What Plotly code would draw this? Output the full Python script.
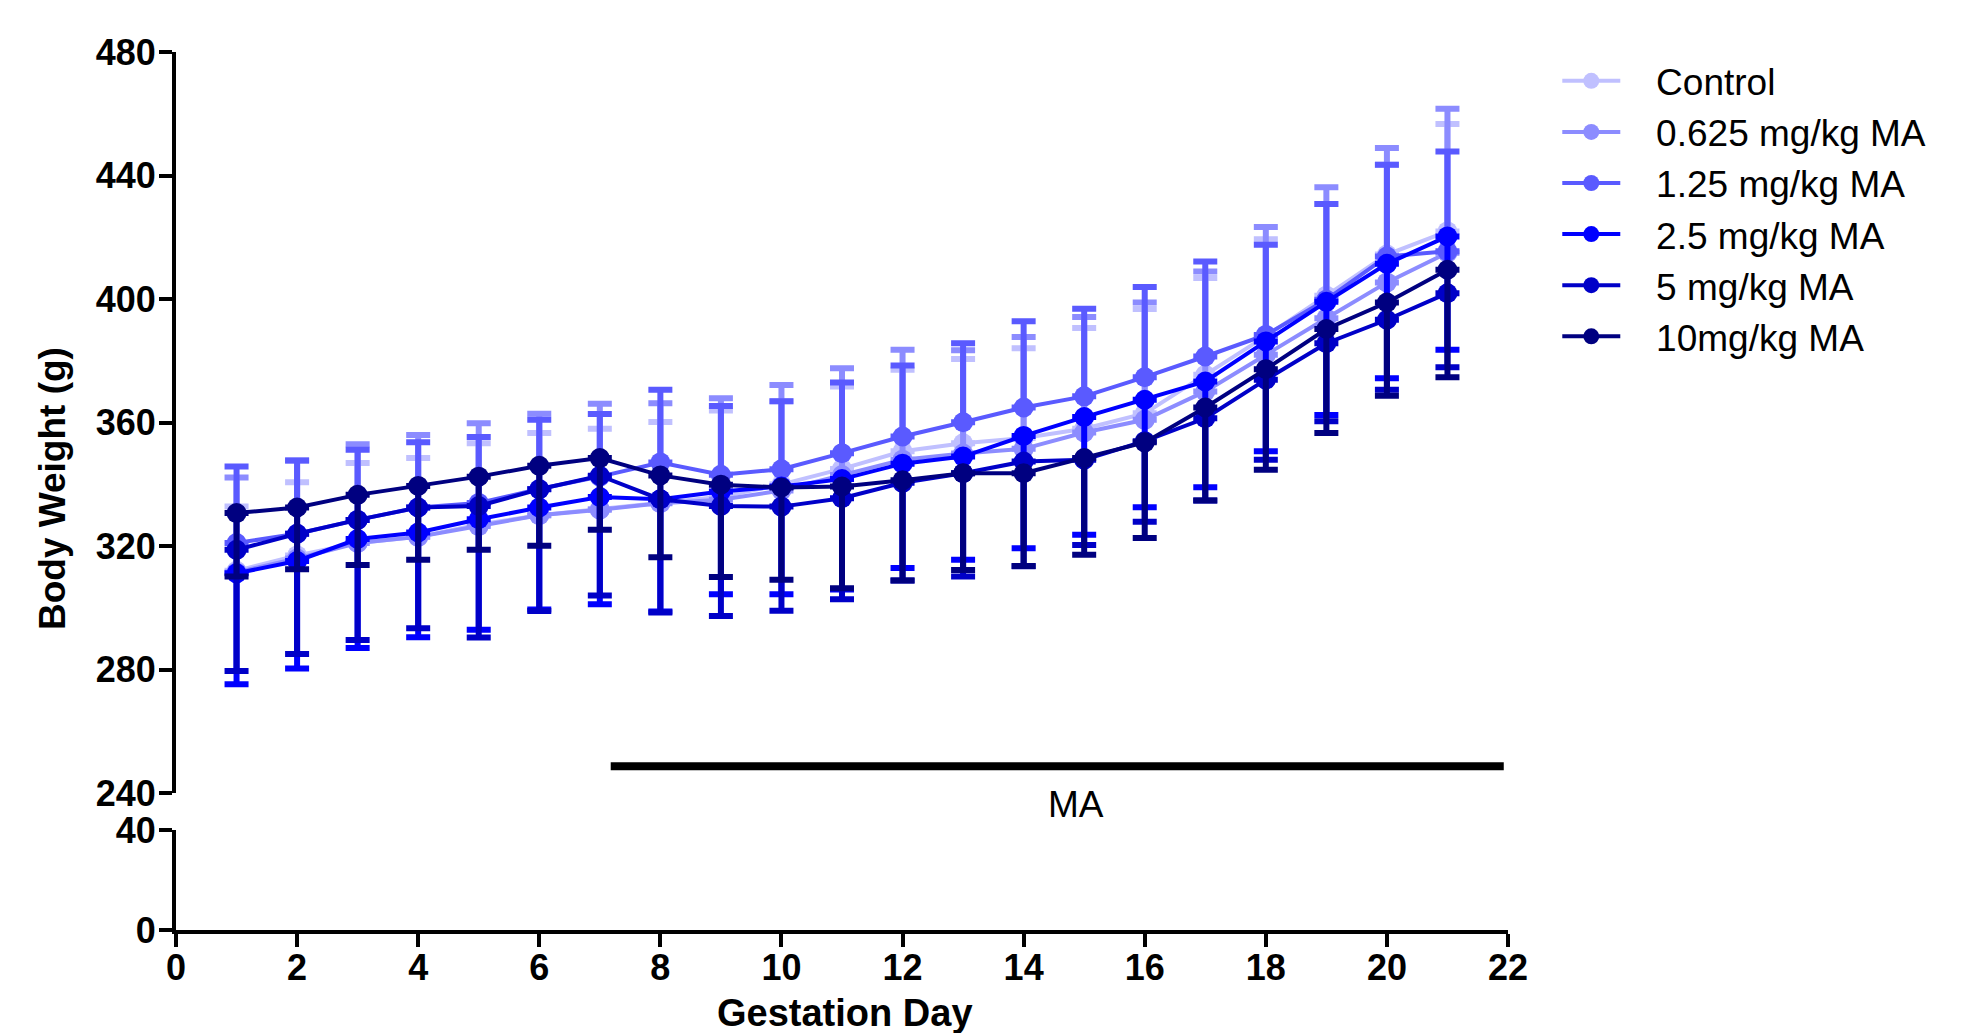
import plotly.graph_objects as go

# ---------------- data ----------------
days = list(range(1, 22))

series_names = ["Control", "0.625 mg/kg MA", "1.25 mg/kg MA",
                "2.5 mg/kg MA", "5 mg/kg MA", "10mg/kg MA"]

control_mean = [312, 317, 321, 323, 327, 330, 332, 334, 336, 340, 345,
                350.7, 353.3, 355, 358, 363, 375.5, 388, 401.1, 414.4, 421.9]
control_sd = [20.8, 23.7, 25.9, 25.5, 26.3, 26.6, 26.0, 26.2, 27.9, 26.9, 26.7,
              26.4, 27.3, 29.1, 32.6, 33.8, 31.3, 31.4, 29.7, 29.1, 34.8]

ma0625_mean = [311.5, 316, 321, 323, 326.5, 330, 331.8, 333.9, 335, 338, 343,
               348, 350, 351.5, 356.8, 360.9, 370.1, 382, 393.8, 405.4, 415.0]
ma0625_sd = [30.7, 31.7, 32.0, 33.0, 33.3, 32.9, 34.3, 32.4, 32.9, 34.2, 34.6,
             35.6, 33.4, 36.2, 37.4, 38.0, 38.8, 41.3, 42.4, 43.5, 46.6]

ma125_mean = [321, 324, 328.5, 332.5, 334, 338.5, 342.5, 347.1, 343.1, 344.9, 350.1,
              355.5, 360.1, 364.9, 368.5, 374.7, 381.4, 388.4, 399.8, 413.8, 415.5]
ma125_sd = [24.8, 23.7, 22.7, 21.1, 21.3, 22.4, 20.3, 23.5, 22.3, 22.0, 22.9,
            23.0, 25.6, 27.9, 28.4, 29.2, 30.8, 29.2, 31.0, 29.7, 32.3]

ma25_mean = [311.2, 315.2, 322.3, 324.4, 328.7, 332.5, 335.9, 335.2, 337.7, 339.3, 341.7,
             346.7, 349.0, 355.7, 361.8, 367.4, 373.3, 386.3, 399.1, 411.4, 420.3]
ma25_sd = [35.9, 34.8, 35.3, 33.9, 35.8, 33.0, 34.7, 36.4, 33.3, 34.9, 35.7,
           33.8, 33.4, 36.4, 38.1, 34.8, 34.2, 35.6, 36.6, 37.0, 36.7]

ma5_mean = [318.8, 324.0, 328.5, 332.5, 333.0, 338.4, 342.8, 335.2, 333.0, 332.8, 335.5,
            340.5, 343.6, 347.4, 348.0, 354.0, 361.4, 373.9, 385.7, 393.3, 401.9]
ma5_sd = [39.2, 38.9, 38.9, 39.1, 42.6, 39.4, 38.8, 36.7, 35.6, 33.7, 32.7,
          31.6, 33.4, 33.9, 27.6, 26.1, 26.6, 25.9, 25.3, 22.7, 24.0]

ma10_mean = [330.7, 332.5, 336.6, 339.5, 342.5, 346.0, 348.5, 342.9, 339.9, 339.0, 339.3,
             341.3, 343.6, 343.6, 348.5, 353.6, 364.9, 377.3, 390.3, 398.9, 409.5]
ma10_sd = [20.5, 20.0, 22.7, 23.9, 23.7, 25.9, 23.2, 26.5, 29.9, 29.9, 32.9,
           32.4, 31.3, 30.0, 31.3, 31.0, 30.1, 32.6, 33.7, 30.2, 34.8]

means = [control_mean, ma0625_mean, ma125_mean, ma25_mean, ma5_mean, ma10_mean]
sds = [control_sd, ma0625_sd, ma125_sd, ma25_sd, ma5_sd, ma10_sd]
error_up = [True, True, True, False, False, False]   # error bar direction
colors = ["#C0C0FF", "#8C8CFF", "#5A5AFF", "#0000FF", "#0000C8", "#000080"]

# MA treatment bar (gestation days) and its level on the weight axis
ma_bar_days = [7.18, 21.93]
ma_bar_level = 248.7
ma_label = "MA"
ma_label_day = 14.87

x_ticks = list(range(0, 23, 2))
y_upper_ticks = [240, 280, 320, 360, 400, 440, 480]
y_lower_ticks = [0, 40]

# ---------------- figure ----------------
FONT = "Liberation Sans, Arial, sans-serif"
NBSP = "\u00a0"
fig = go.Figure()

for name, m, s, up, c in zip(series_names, means, sds, error_up, colors):
    zeros = [0] * len(s)
    err = dict(type="data", symmetric=False,
               array=s if up else zeros,
               arrayminus=zeros if up else s,
               color=c, thickness=6, width=12)
    fig.add_trace(go.Scatter(
        x=days, y=m, name=NBSP * 3 + name, mode="lines+markers",
        line=dict(color=c, width=4),
        marker=dict(color=c, size=20),
        error_y=err, xaxis="x", yaxis="y", cliponaxis=False))

# empty trace so the lower (broken) axis segment exists
fig.add_trace(go.Scatter(x=[None], y=[None], xaxis="x", yaxis="y2",
                         showlegend=False, hoverinfo="skip"))

fig.add_shape(type="line", xref="x", yref="y",
              x0=ma_bar_days[0], x1=ma_bar_days[1],
              y0=ma_bar_level, y1=ma_bar_level,
              line=dict(color="black", width=8))

fig.add_annotation(text=ma_label, x=ma_label_day, xref="x",
                   y=0.1424, yref="paper", yanchor="middle",
                   showarrow=False, font=dict(family=FONT, size=37, color="black"))

fig.add_annotation(text="<b>Body Weight (g)</b>", textangle=-90,
                   x=-0.0923, xref="paper", y=0.5023, yref="paper",
                   xanchor="center", yanchor="middle", showarrow=False,
                   font=dict(family=FONT, size=37, color="black"))
fig.add_annotation(text="<b>Gestation Day</b>",
                   x=0.502, xref="paper", y=-0.068, yref="paper",
                   xanchor="center", yanchor="top", showarrow=False,
                   font=dict(family=FONT, size=38, color="black"))

tickfont = dict(family=FONT, size=36, color="black", weight="bold")
axis_common = dict(showgrid=False, zeroline=False, showline=True,
                   linecolor="black", linewidth=4, ticks="outside",
                   tickcolor="black", tickwidth=4, ticklen=13,
                   tickfont=tickfont)

fig.update_layout(
    width=1971, height=1033,
    margin=dict(l=176, r=463, t=52, b=103),
    paper_bgcolor="white", plot_bgcolor="white",
    xaxis=dict(range=[0, 22], tickvals=x_ticks, anchor="y2",
               domain=[0, 1], ticklabelstandoff=-10, **axis_common),
    yaxis=dict(range=[240, 480], tickvals=y_upper_ticks, anchor="x",
               domain=[0.1558, 1.0], ticklabelstandoff=-4, **axis_common),
    yaxis2=dict(range=[0, 40], tickvals=y_lower_ticks, anchor="x",
                domain=[0, 0.1139], ticklabelstandoff=-4, **axis_common),
    showlegend=True,
    legend=dict(x=1.037, y=1.002, xanchor="left", yanchor="top",
                font=dict(family=FONT, size=37, color="black"),
                bgcolor="rgba(0,0,0,0)", itemwidth=58),
)

fig.write_html("out.html")
